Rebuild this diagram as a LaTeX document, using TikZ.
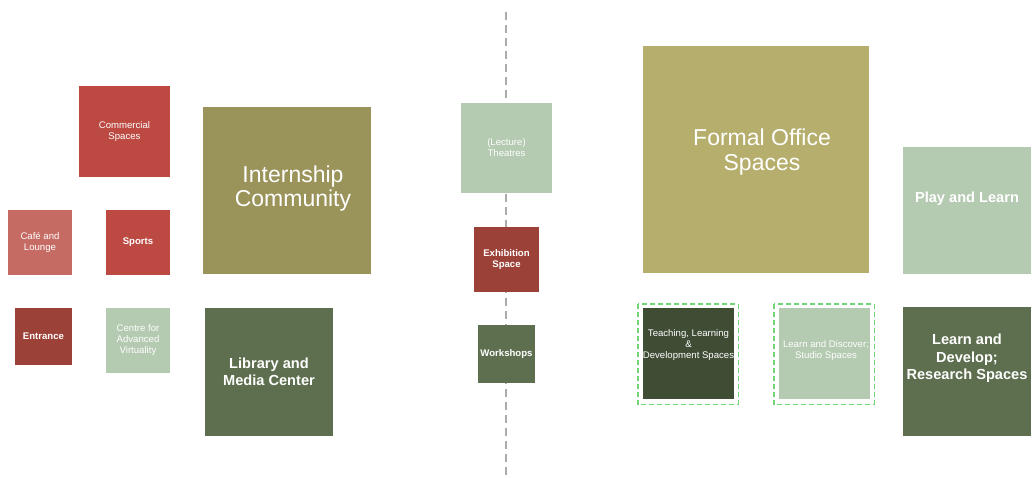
\documentclass[tikz,border=0pt]{standalone}
\usepackage{fontspec}
\setmainfont{Liberation Sans}
\usetikzlibrary{calc}

\definecolor{brick}{HTML}{BC4A43}
\definecolor{rose}{HTML}{C56B64}
\definecolor{rust}{HTML}{9C4137}
\definecolor{sage}{HTML}{B4CAB1}
\definecolor{olive}{HTML}{9A935A}
\definecolor{khaki}{HTML}{B5AE6C}
\definecolor{moss}{HTML}{5E6F4F}
\definecolor{forest}{HTML}{3F4D35}
\definecolor{framegreen}{HTML}{74D474}
\definecolor{axisgray}{HTML}{ABABAB}

\newcommand{\smalltxt}{\fontsize{9.6}{11}\selectfont}
\newcommand{\midtxt}{\fontsize{14.6}{17.5}\selectfont}
\newcommand{\bigtxt}{\fontsize{23}{24.5}\selectfont}

\begin{document}
\begin{tikzpicture}[
    x=1pt, y=-1pt,
    room/.style={fill=#1, inner sep=0pt, text=white, align=center, font=\smalltxt},
    roomlbl/.style={text=white, align=center, inner sep=0pt},
    axis/.style={axisgray, line width=1.6pt, dash pattern=on 8pt off 5pt},
    zone/.style={framegreen, line width=1.4pt, dash pattern=on 5pt off 3pt}
]
  \useasboundingbox (0,0) rectangle (1033,478);

  % dividing axis
  \coordinate (axis-top) at (506,12);
  \coordinate (axis-bot) at (506,478);
  \draw[axis] (axis-top) -- (axis-bot);

  % left cluster
  \node[room=brick, minimum width=91pt, minimum height=91pt] (commercial) at (124.5,131.5) {Commercial\\Spaces};
  \node[room=rose, minimum width=64pt, minimum height=65pt] (cafe) at (40,242.5) {Café and\\Lounge};
  \node[room=brick, minimum width=64pt, minimum height=65pt, font=\smalltxt\bfseries] (sports) at (138,242.5) {Sports};
  \node[room=rust, minimum width=57pt, minimum height=57pt, font=\smalltxt\bfseries] (entrance) at (43.5,336.5) {Entrance};
  \node[room=sage, minimum width=64pt, minimum height=65pt] (virtuality) at (138,340.5) {Centre for\\Advanced\\Virtuality};
  \node[room=olive, minimum width=168pt, minimum height=167pt,
        label={[roomlbl, font=\bigtxt, xshift=6pt, yshift=2pt]center:{Internship\\Community}}] (internship) at (287,190.5) {};
  \node[room=moss, minimum width=128pt, minimum height=128pt, font=\midtxt\bfseries] (library) at (269,372) {Library and\\Media Center};

  % central spine
  \node[room=sage, minimum width=91pt, minimum height=90pt] (theatres) at (506.5,148) {(Lecture)\\Theatres};
  \node[room=rust, minimum width=65pt, minimum height=65pt, font=\smalltxt\bfseries] (exhibition) at (506.5,259.5) {Exhibition\\Space};
  \node[room=moss, minimum width=57pt, minimum height=58pt, font=\smalltxt\bfseries] (workshops) at (506.5,354) {Workshops};

  % right cluster
  \node[room=khaki, minimum width=226pt, minimum height=227pt,
        label={[roomlbl, font=\bigtxt, xshift=6pt, yshift=7.5pt]center:{Formal Office\\Spaces}}] (formal) at (756,159.5) {};
  \node[room=sage, minimum width=128pt, minimum height=127pt,
        label={[roomlbl, font=\midtxt\bfseries, yshift=12pt]center:{Play and Learn}}] (play) at (967,210.5) {};
  \node[room=moss, minimum width=128pt, minimum height=129pt,
        label={[roomlbl, font=\midtxt\bfseries, yshift=13pt]center:{Learn and\\Develop;\\Research Spaces}}] (develop) at (967,371.5) {};
  \node[room=forest, minimum width=91pt, minimum height=91pt,
        label={[roomlbl, font=\smalltxt, yshift=8pt]center:{Teaching, Learning\\\&\\Development Spaces}}] (teaching) at (688.5,353.5) {};
  \node[room=sage, minimum width=91pt, minimum height=91pt,
        label={[roomlbl, font=\smalltxt, xshift=1.5pt, yshift=3pt]center:{Learn and Discover;\\Studio Spaces}}] (discover) at (824.5,353.5) {};

  % dashed zones round the teaching rooms
  \foreach \room in {teaching,discover} {
    \draw[zone] ([shift={(-5pt,4pt)}]\room.north west) rectangle ([shift={(4pt,-5pt)}]\room.south east);
  }
\end{tikzpicture}
\end{document}
